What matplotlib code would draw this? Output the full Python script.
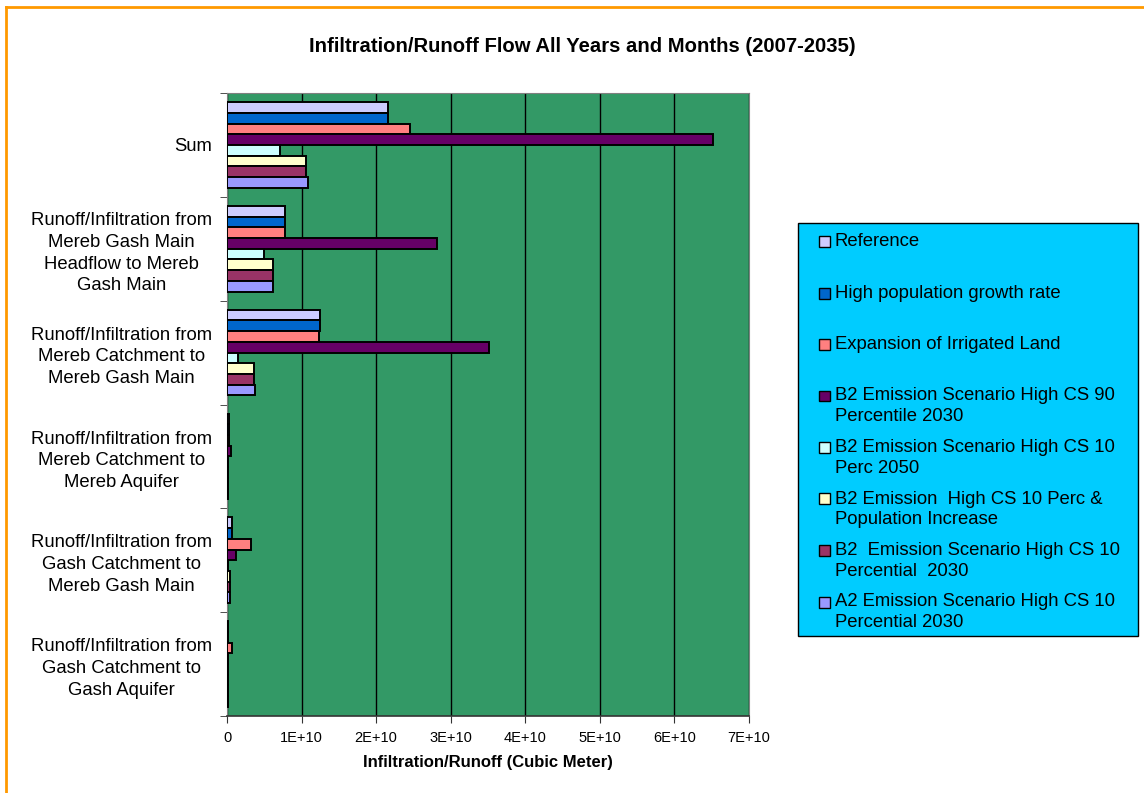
import matplotlib
matplotlib.use("Agg")
import matplotlib.pyplot as plt
from matplotlib.patches import Rectangle
import numpy as np

plt.rcParams['font.family'] = ['Liberation Sans', 'DejaVu Sans']

categories = [
    "Sum",
    "Runoff/Infiltration from\nMereb Gash Main\nHeadflow to Mereb\nGash Main",
    "Runoff/Infiltration from\nMereb Catchment to\nMereb Gash Main",
    "Runoff/Infiltration from\nMereb Catchment to\nMereb Aquifer",
    "Runoff/Infiltration from\nGash Catchment to\nMereb Gash Main",
    "Runoff/Infiltration from\nGash Catchment to\nGash Aquifer",
]

series_names = [
    "Reference",
    "High population growth rate",
    "Expansion of Irrigated Land",
    "B2 Emission Scenario High CS 90\nPercentile 2030",
    "B2 Emission Scenario High CS 10\nPerc 2050",
    "B2 Emission  High CS 10 Perc &\nPopulation Increase",
    "B2  Emission Scenario High CS 10\nPercential  2030",
    "A2 Emission Scenario High CS 10\nPercential 2030",
]

colors = ["#CCCCFF", "#0066CC", "#FF8080", "#660066",
          "#CCFFFF", "#FFFFCC", "#993366", "#9999FF"]

# values per series (cubic meters), order of categories as above
reference   = [2.16e10, 0.78e10, 1.25e10, 0.03e10, 0.07e10, 0.01e10]
high_pop    = [2.16e10, 0.78e10, 1.25e10, 0.03e10, 0.07e10, 0.01e10]
expansion   = [2.46e10, 0.78e10, 1.24e10, 0.03e10, 0.32e10, 0.07e10]
b2_90_2030  = [6.52e10, 2.81e10, 3.52e10, 0.05e10, 0.12e10, 0.02e10]
b2_10_2050  = [0.71e10, 0.50e10, 0.15e10, 0.01e10, 0.01e10, 0.01e10]
b2_10_pop   = [1.06e10, 0.62e10, 0.36e10, 0.01e10, 0.045e10, 0.01e10]
b2_10_2030  = [1.06e10, 0.62e10, 0.36e10, 0.01e10, 0.04e10, 0.01e10]
a2_10_2030  = [1.08e10, 0.62e10, 0.375e10, 0.01e10, 0.045e10, 0.01e10]

all_series = [reference, high_pop, expansion, b2_90_2030,
              b2_10_2050, b2_10_pop, b2_10_2030, a2_10_2030]

xticks = [0, 1e10, 2e10, 3e10, 4e10, 5e10, 6e10, 7e10]
xticklabels = ["0", "1E+10", "2E+10", "3E+10", "4E+10", "5E+10", "6E+10", "7E+10"]

fig = plt.figure(figsize=(11.44, 7.93), dpi=100)
fig.patch.set_facecolor("white")

ax = fig.add_axes([227/1144, 1-716/793, (749-227)/1144, (716-93)/793])
ax.set_facecolor("#339966")

n_cat = len(categories)
n_ser = len(all_series)
bar_h = 0.103
centers = np.arange(n_cat)
for i, (vals, col) in enumerate(zip(all_series, colors)):
    offs = (i - (n_ser - 1) / 2) * bar_h
    ax.barh(centers + offs, vals, height=bar_h, color=col,
            edgecolor="black", linewidth=1.4, zorder=3)

ax.set_ylim(n_cat - 0.5, -0.5)
ax.set_xlim(0, 7e10)
ax.set_xticks(xticks)
ax.set_xticklabels(xticklabels, fontsize=10.5)
ax.set_yticks(centers)
ax.set_yticklabels(categories, fontsize=13.3, ha="right",
                   multialignment="center", linespacing=1.37)
ax.tick_params(axis="y", which="major", length=0, pad=11)
ax.set_yticks(np.arange(n_cat + 1) - 0.5, minor=True)
ax.tick_params(axis="y", which="minor", length=5, color="#333333")
ax.tick_params(axis="x", length=5, color="#333333", pad=6)
ax.xaxis.grid(True, color="black", linewidth=1.0, zorder=1)
ax.set_axisbelow(True)
for s in ["top", "right"]:
    ax.spines[s].set_color("#808080")
ax.spines["left"].set_color("#808080")
ax.spines["bottom"].set_color("#333333")
ax.spines["bottom"].set_linewidth(1.2)

ax.set_xlabel("Infiltration/Runoff (Cubic Meter)", fontsize=12,
              fontweight="bold", labelpad=7)
fig.text(582.5/1144, 1-47/793, "Infiltration/Runoff Flow All Years and Months (2007-2035)",
         ha="center", va="center", fontsize=14.6, fontweight="bold")

# legend box (drawn manually in figure coordinates)
W, H = 1144, 793
fig.patches.append(Rectangle((798/W, 1-636/H), (1138-798)/W, (636-223)/H,
                             transform=fig.transFigure, facecolor="#00CCFF",
                             edgecolor="black", linewidth=1.0))
for i, (name, col) in enumerate(zip(series_names, colors)):
    ycen = 241 + i * 51.5
    fig.patches.append(Rectangle((819/W, 1-(ycen+6)/H), 11/W, 11/H,
                                 transform=fig.transFigure, facecolor=col,
                                 edgecolor="black", linewidth=1.0))
    fig.text(835/W, 1-(ycen - 8)/H, name, ha="left", va="top",
             fontsize=13.3, linespacing=1.28)

# orange outer border
fig.add_artist(plt.Line2D([6/W, 6/W], [0, 1-7/H], transform=fig.transFigure,
                          color="#FF9900", linewidth=2))
fig.add_artist(plt.Line2D([6/W, 1], [1-7/H, 1-7/H], transform=fig.transFigure,
                          color="#FF9900", linewidth=2))

fig.savefig("out.png", dpi=100)
